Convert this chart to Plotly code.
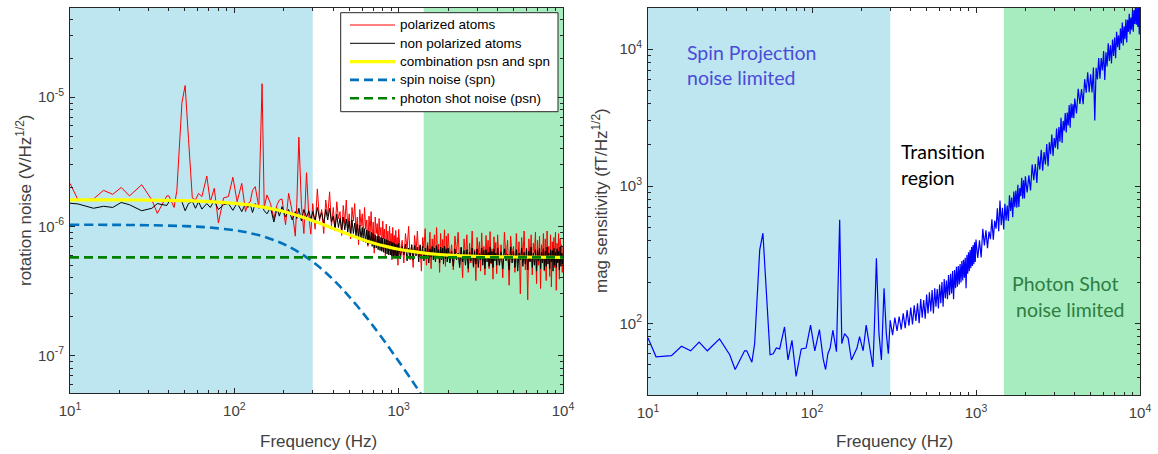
import plotly.graph_objects as go

W, H = 1158, 454

# ---------------- data ----------------
# shared frequency grid (Hz) for the measured traces
FREQ_LOW = [10, 11.2, 13.9, 16, 18.2, 20.5, 23, 27.3, 31.5, 34, 38.8, 40, 43, 44.7, 48, 50.2, 52.6,
            55.5, 58, 60.6, 63.5, 68, 71.4, 75.5, 80, 86, 92, 98, 104, 111, 117, 121, 125, 129, 134,
            141, 147.5, 152, 158, 166, 174, 182, 188, 195, 205, 214, 225, 235, 240, 247, 256, 265,
            275, 284, 292]
FREQ_HIGH = [300, 310, 320, 330, 340, 350, 360, 370, 380, 390,
             400, 410, 420, 430, 440, 450, 460, 470, 480, 490,
             500, 510, 520, 530, 540, 550, 560, 570, 580, 590,
             600, 610, 620, 630, 640, 650, 660, 670, 680, 690,
             700, 710, 720, 730, 740, 750, 760, 770, 780, 790,
             800, 810, 820, 830, 840, 850, 860, 870, 880, 890,
             900, 910, 920, 930, 940, 950, 960, 970, 980, 990,
             1000, 1025, 1050, 1075, 1100, 1125, 1150, 1175, 1200, 1225,
             1250, 1275, 1300, 1325, 1350, 1375, 1400, 1425, 1450, 1475,
             1500, 1525, 1550, 1575, 1600, 1625, 1650, 1675, 1700, 1725,
             1750, 1775, 1800, 1825, 1850, 1875, 1900, 1925, 1950, 1975,
             2000, 2050, 2100, 2150, 2200, 2250, 2300, 2350, 2400, 2450,
             2500, 2550, 2600, 2650, 2700, 2750, 2800, 2850, 2900, 2950,
             3000, 3050, 3100, 3150, 3200, 3250, 3300, 3350, 3400, 3450,
             3500, 3550, 3600, 3650, 3700, 3750, 3800, 3850, 3900, 3950,
             4000, 4100, 4200, 4300, 4400, 4500, 4600, 4700, 4800, 4900,
             5000, 5100, 5200, 5300, 5400, 5500, 5600, 5700, 5800, 5900,
             6000, 6100, 6200, 6300, 6400, 6500, 6600, 6700, 6800, 6900,
             7000, 7100, 7200, 7300, 7400, 7500, 7600, 7700, 7800, 7900,
             8000, 8100, 8200, 8300, 8400, 8500, 8600, 8700, 8800, 8900,
             9000, 9100, 9200, 9300, 9400, 9500, 9600, 9700, 9800, 9900,
             10000]

# rotation noise, in units of 1e-8 V/Hz^1/2
RED_LOW = [215, 160, 163, 190, 177, 200, 172, 210, 160, 126, 172, 172, 140, 190, 910, 1230, 480,
           166, 160, 180, 170, 245, 155, 197, 106, 166, 170, 240, 155, 215, 130, 150, 155, 190, 203,
           140, 1270, 140, 175, 150, 115, 147, 160, 163, 103, 180, 130, 84, 150, 490, 147, 88,
           260, 120, 87]
RED_HIGH = [150, 95, 195, 110, 135, 88, 160, 120, 185, 100,
            140, 92, 155, 115, 130, 85, 145, 105, 160, 98,
            125, 80, 140, 110, 150, 90, 118, 72, 135, 100,
            125, 85, 140, 95, 112, 70, 120, 90, 130, 78,
            108, 62, 118, 88, 105, 70, 115, 85, 98, 66,
            110, 80, 95, 58, 104, 75, 92, 64, 100, 72,
            88, 55, 98, 70, 85, 60, 93, 68, 82, 50,
            95, 60, 78, 52, 88, 66, 100, 55, 72, 48,
            85, 63, 92, 58, 70, 45, 82, 68, 96, 50,
            75, 57, 90, 47, 80, 64, 86, 53, 98, 60,
            73, 44, 88, 56, 79, 62, 94, 49, 84, 58,
            88, 55, 72, 46, 84, 62, 90, 50, 68, 40,
            80, 58, 86, 44, 74, 52, 92, 48, 66, 38,
            82, 60, 76, 45, 89, 54, 70, 42, 85, 57,
            78, 47, 91, 51, 67, 39, 83, 61, 75, 43,
            86, 50, 72, 40, 90, 56, 78, 35, 84, 60,
            70, 44, 88, 52, 76, 30, 82, 58, 92, 46,
            68, 27, 80, 54, 86, 42, 74, 62, 90, 36,
            78, 50, 84, 33, 72, 57, 88, 45, 80, 38,
            92, 55, 70, 41, 86, 34, 76, 59, 82, 48,
            90, 32, 74, 53, 88, 39, 80, 56, 72, 44,
            70]
BLACK_LOW = [151, 149, 138, 143, 140, 153, 147, 132, 138, 150, 145, 155, 160, 160, 155, 132, 150,
             156, 138, 155, 136, 150, 140, 158, 135, 147, 150, 133, 152, 130, 150, 140, 148, 128, 150,
             138, 145, 132, 125, 140, 108, 138, 120, 142, 118, 135, 112, 130, 115, 138, 110, 135,
             118, 132, 112]
BLACK_HIGH = [130, 110, 140, 115, 128, 105, 135, 112, 138, 108,
              120, 95, 124, 98, 116, 92, 118, 94, 114, 90,
              110, 86, 112, 88, 106, 84, 104, 82, 102, 80,
              98, 76, 96, 75, 94, 72, 92, 73, 90, 70,
              88, 68, 86, 68, 84, 66, 84, 65, 82, 64,
              81, 63, 80, 62, 79, 61, 78, 60, 77, 60,
              76, 59, 75, 59, 74, 58, 73, 57, 72, 57,
              74, 56, 70, 60, 73, 54, 68, 58, 72, 55,
              71, 59, 69, 53, 72, 57, 70, 54, 68, 56,
              71, 52, 67, 58, 70, 55, 68, 53, 71, 57,
              66, 52, 69, 55, 68, 51, 70, 56, 67, 53,
              68, 52, 64, 49, 67, 55, 62, 48, 69, 53,
              65, 50, 66, 47, 63, 54, 68, 49, 64, 51,
              67, 48, 62, 55, 68, 50, 65, 47, 66, 53,
              63, 49, 69, 52, 64, 48, 67, 54, 62, 50,
              68, 50, 63, 47, 67, 54, 61, 46, 69, 52,
              64, 48, 66, 45, 62, 55, 68, 49, 63, 51,
              67, 46, 64, 53, 69, 48, 62, 50, 66, 45,
              65, 54, 68, 47, 63, 52, 67, 46, 64, 49,
              69, 51, 62, 47, 66, 53, 65, 45, 68, 50,
              63, 48, 67, 52, 64, 46, 69, 49, 62, 51,
              62]

# model curves (1e-8 V/Hz^1/2)
SMOOTH_F = [10, 20, 30, 50, 70, 100, 120, 150, 180, 210, 250, 300, 350, 400, 450, 500, 600, 700,
            850, 1000, 1200, 1400, 1700, 2000, 3000, 5000, 10000]
SPN = [102.9, 102.6, 102.0, 100.4, 98.0, 93.3, 89.6, 83.5, 77.0, 70.6, 62.4, 53.2, 45.3, 38.6,
       33.2, 28.6, 21.7, 16.9, 12.1, 9.03, 6.45, 4.81]
COMB = [160.4, 160.1, 159.5, 157.9, 155.5, 150.8, 147.1, 141.0, 134.5, 128.1, 119.9, 110.7, 102.8,
        96.1, 90.7, 86.1, 79.2, 74.4, 69.6, 66.5, 64.0, 62.3, 60.8, 59.9, 58.6, 57.9, 57.6]
PSN_F = [10, 10000]
PSN = [57.5, 57.5]

# magnetic sensitivity (fT/Hz^1/2)
MAG_LOW = [78, 57, 58, 68, 63, 73, 63, 77, 59, 46, 63, 63, 52, 71, 343, 454, 175, 59, 60, 66, 65,
           94, 54, 75, 41, 65, 66, 97, 63, 90, 55, 46, 60, 66, 89, 62, 568, 71, 84, 78, 54, 60, 66,
           80, 63, 97, 68, 48, 91, 298, 84, 54, 180, 84, 60]
MAG_HIGH = [105, 82, 110, 88, 112, 90, 118, 92, 125, 96,
            130, 98, 135, 104, 140, 100, 150, 110, 148, 108,
            162, 118, 168, 122, 175, 118, 180, 132, 178, 128,
            192, 140, 200, 132, 210, 152, 205, 150, 225, 160,
            230, 165, 240, 150, 245, 180, 258, 185, 262, 192,
            270, 198, 285, 205, 290, 215, 300, 180, 315, 230,
            330, 240, 342, 252, 360, 262, 372, 270, 390, 280,
            408, 299, 402, 302, 488, 370, 477, 353, 467, 411,
            573, 407, 560, 489, 689, 469, 784, 518, 696, 484,
            744, 561, 721, 558, 856, 658, 827, 594, 912, 702,
            928, 697, 1025, 705, 968, 846, 1150, 808, 1104, 813,
            1180, 899, 1199, 931, 1440, 1103, 1448, 1056, 1644, 1321,
            1838, 1296, 1770, 1439, 2028, 1396, 2088, 1711, 2381, 1663,
            2244, 1904, 2628, 1857, 2696, 2105, 3154, 2068, 2990, 2535,
            3408, 2461, 3443, 2768, 3904, 2669, 4000, 3141, 3949, 3132,
            4347, 3392, 5124, 3978, 5104, 3961, 6024, 4802, 6775, 4842,
            6541, 4824, 7340, 3017, 7282, 6002, 8577, 6082, 8579, 6975,
            9648, 5933, 9464, 7448, 11011, 8190, 10625, 7831, 11736, 8897,
            12122, 8560, 13359, 10304, 12595, 9828, 14101, 10998, 15625, 10624,
            14672, 11766, 16380, 11136, 16330, 13340, 18056, 12835, 16940, 13816,
            19200, 13366, 19256, 15210, 21328, 15050, 19936, 14480, 21712, 12750,
            21010]

# shaded regions (Hz)
SPIN_REGION = [10, 300]
SHOT_REGION_LEFT = [1420, 10000]
SHOT_REGION_RIGHT = [1480, 10000]

TICK_VALS = [10, 100, 1000, 10000]
TICK_TEXT = ["10<sup>1</sup>", "10<sup>2</sup>", "10<sup>3</sup>", "10<sup>4</sup>"]
LY_TICK_VALS = [1e-7, 1e-6, 1e-5]
LY_TICK_TEXT = ["10<sup>-7</sup>", "10<sup>-6</sup>", "10<sup>-5</sup>"]
RY_TICK_VALS = [100, 1000, 10000]
RY_TICK_TEXT = ["10<sup>2</sup>", "10<sup>3</sup>", "10<sup>4</sup>"]

LEGEND_NAMES = ["polarized atoms", "non polarized atoms", "combination psn and spn",
                "spin noise (spn)", "photon shot noise (psn)"]

# ---------------- figure ----------------
S = 1e-8
FREQ = FREQ_LOW + FREQ_HIGH
assert len(RED_LOW) == len(BLACK_LOW) == len(MAG_LOW) == len(FREQ_LOW)
assert len(RED_HIGH) == len(BLACK_HIGH) == len(MAG_HIGH) == len(FREQ_HIGH)
RED = [v * S for v in RED_LOW + RED_HIGH]
BLACK = [v * S for v in BLACK_LOW + BLACK_HIGH]
MAG = MAG_LOW + MAG_HIGH

C_BLUE_BG = "#BEE6F0"
C_GREEN_BG = "#A6ECBE"
AX = "#262626"
FONT = "Liberation Sans, Arial, sans-serif"

STYLES = [dict(color="#FF0000", width=1), dict(color="#000000", width=1),
          dict(color="#FFFF00", width=3.2), dict(color="#0072BD", width=2.6, dash="9px,5px"),
          dict(color="#008000", width=2.6, dash="9px,5px")]

fig = go.Figure()


def region(x0, x1, color, xa, ya, lo, hi):
    fig.add_trace(go.Scatter(x=[x0, x1, x1, x0, x0], y=[lo, lo, hi, hi, lo], fill="toself",
                             fillcolor=color, mode="lines", line=dict(width=0),
                             xaxis=xa, yaxis=ya, showlegend=False, hoverinfo="skip"))


region(SPIN_REGION[0], SPIN_REGION[1], C_BLUE_BG, "x", "y", 1e-10, 1e-2)
region(SHOT_REGION_LEFT[0], SHOT_REGION_LEFT[1], C_GREEN_BG, "x", "y", 1e-10, 1e-2)
region(SPIN_REGION[0], SPIN_REGION[1], C_BLUE_BG, "x2", "y2", 1, 1e7)
region(SHOT_REGION_RIGHT[0], SHOT_REGION_RIGHT[1], C_GREEN_BG, "x2", "y2", 1, 1e7)

fig.add_trace(go.Scatter(x=FREQ, y=RED, mode="lines", name=LEGEND_NAMES[0], line=STYLES[0]))
fig.add_trace(go.Scatter(x=FREQ, y=BLACK, mode="lines", name=LEGEND_NAMES[1], line=STYLES[1]))
fig.add_trace(go.Scatter(x=SMOOTH_F, y=[v * S for v in COMB], mode="lines", name=LEGEND_NAMES[2],
                         line=dict(shape="spline", **STYLES[2])))
fig.add_trace(go.Scatter(x=SMOOTH_F[:len(SPN)], y=[v * S for v in SPN], mode="lines",
                         name=LEGEND_NAMES[3], line=dict(shape="spline", **STYLES[3])))
fig.add_trace(go.Scatter(x=PSN_F, y=[v * S for v in PSN], mode="lines", name=LEGEND_NAMES[4],
                         line=STYLES[4]))

fig.add_trace(go.Scatter(x=FREQ, y=MAG, mode="lines", xaxis="x2", yaxis="y2",
                         line=dict(color="#0000FF", width=1.2)))

minor_x = [m * d for d in (10, 100, 1000) for m in range(2, 10)]
minor_ly = [m * d for d in (1e-8, 1e-7, 1e-6, 1e-5) for m in range(2, 10)]
minor_ry = [m * d for d in (10, 100, 1000, 10000) for m in range(2, 10)]

axis_common = dict(type="log", showgrid=False, zeroline=False, showline=True, linecolor=AX,
                   linewidth=1, mirror="allticks", ticks="inside", ticklen=5, tickcolor=AX,
                   automargin=False,
                   tickfont=dict(family=FONT, size=15, color="#404040"))

fig.update_layout(
    width=W, height=H, margin=dict(l=0, r=0, t=0, b=0, autoexpand=False),
    paper_bgcolor="white", plot_bgcolor="white", hovermode=False, showlegend=False,
    xaxis=dict(domain=[70 / W, 563 / W], range=[1, 4], tickvals=TICK_VALS, ticktext=TICK_TEXT,
               minor=dict(tickvals=minor_x, ticks="inside", ticklen=3, tickcolor=AX),
               anchor="y", ticklabelstandoff=4, **axis_common),
    yaxis=dict(domain=[1 - 393 / H, 1 - 8 / H], range=[-7.29, -4.31], tickvals=LY_TICK_VALS,
               ticktext=LY_TICK_TEXT,
               minor=dict(tickvals=minor_ly, ticks="inside", ticklen=3, tickcolor=AX),
               anchor="x", ticklabelstandoff=2, **axis_common),
    xaxis2=dict(domain=[648 / W, 1140 / W], range=[1, 4], tickvals=TICK_VALS, ticktext=TICK_TEXT,
                minor=dict(tickvals=minor_x, ticks="inside", ticklen=3, tickcolor=AX),
                anchor="y2", ticklabelstandoff=4, **axis_common),
    yaxis2=dict(domain=[1 - 395 / H, 1 - 8 / H], range=[1.477, 4.299], tickvals=RY_TICK_VALS,
                ticktext=RY_TICK_TEXT,
                minor=dict(tickvals=minor_ry, ticks="inside", ticklen=3, tickcolor=AX),
                anchor="x2", ticklabelstandoff=2, **axis_common),
)

# legend drawn as a boxed key (MATLAB-style long line samples)
LG_X0, LG_X1, LG_Y0, LG_Y1 = 340.7, 558, 12.7, 111.7
fig.add_shape(type="rect", xref="paper", yref="paper", x0=LG_X0 / W, x1=LG_X1 / W,
              y0=1 - LG_Y0 / H, y1=1 - LG_Y1 / H, fillcolor="white",
              line=dict(color=AX, width=1), layer="above")
for i, (name, st) in enumerate(zip(LEGEND_NAMES, STYLES)):
    yc = 1 - (25 + 18.3 * i) / H
    fig.add_shape(type="line", xref="paper", yref="paper", x0=350 / W, x1=395 / W, y0=yc, y1=yc,
                  line=st, layer="above")
    fig.add_annotation(text=name, x=398 / W, y=yc, xref="paper", yref="paper", showarrow=False,
                       xanchor="left", yanchor="middle",
                       font=dict(family=FONT, size=13.5, color="#000000"))


def ann(text, x, y, size, color, angle=0, xanchor="center", family=FONT):
    fig.add_annotation(text=text, x=x / W, y=1 - y / H, xref="paper", yref="paper",
                       showarrow=False, textangle=angle, xanchor=xanchor, yanchor="middle",
                       font=dict(family=family, size=size, color=color))


TITLE_C = "#404040"
ann("rotation noise (V/Hz<sup>1/2</sup>)", 24, 200, 17, TITLE_C, angle=-90)
ann("mag sensitivity (fT/Hz<sup>1/2</sup>)", 600, 201, 17, TITLE_C, angle=-90)
ann("Frequency (Hz)", 318, 441, 17, TITLE_C)
ann("Frequency (Hz)", 894, 441, 17, TITLE_C)

SANS2 = "Lato, Open Sans, sans-serif"
ann("Spin Projection", 685, 52, 19.5, "#4B4BD8", xanchor="left", family=SANS2)
ann("noise limited", 685, 77, 19.5, "#4B4BD8", xanchor="left", family=SANS2)
ann("Transition", 899, 152, 19.5, "#000000", xanchor="left", family=SANS2)
ann("region", 899, 178, 19.5, "#000000", xanchor="left", family=SANS2)
ann("Photon Shot", 1010, 283, 19.5, "#2E7D42", xanchor="left", family=SANS2)
ann("noise limited", 1014, 309, 19.5, "#2E7D42", xanchor="left", family=SANS2)

fig.write_html("out.html", config={"displayModeBar": False, "staticPlot": True},
               post_script="document.body.style.margin='0';document.body.style.padding='0';"
                           "document.body.style.overflow='hidden';")
